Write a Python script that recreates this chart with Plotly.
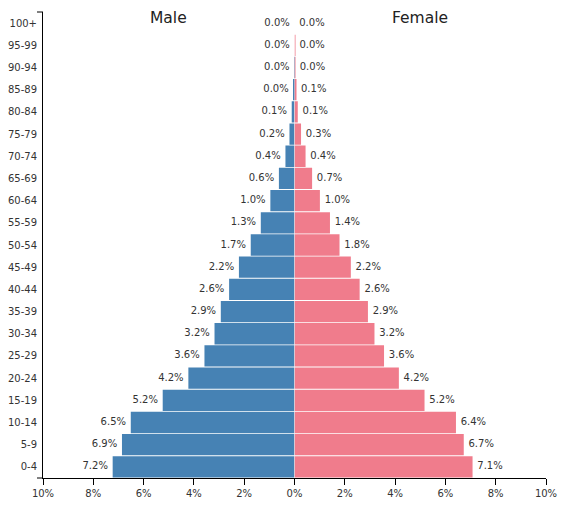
import plotly.graph_objects as go

# ---------- data ----------
age_groups = ["0-4", "5-9", "10-14", "15-19", "20-24", "25-29", "30-34",
              "35-39", "40-44", "45-49", "50-54", "55-59", "60-64", "65-69",
              "70-74", "75-79", "80-84", "85-89", "90-94", "95-99", "100+"]
male_pct = [7.23, 6.86, 6.51, 5.24, 4.22, 3.58, 3.18, 2.93, 2.60, 2.21, 1.74,
            1.34, 0.96, 0.62, 0.36, 0.20, 0.11, 0.04, 0.01, 0.0, 0.0]
female_pct = [7.08, 6.73, 6.42, 5.17, 4.15, 3.56, 3.18, 2.92, 2.59, 2.24, 1.79,
              1.41, 1.01, 0.70, 0.44, 0.26, 0.13, 0.07, 0.02, 0.005, 0.0]
male_ticks = [0, 2, 4, 6, 8, 10]
male_tick_text = ["0%", "2%", "4%", "6%", "8%", "10%"]
female_ticks = [2, 4, 6, 8, 10]   # 0% is already labelled by the male axis
female_tick_text = ["2%", "4%", "6%", "8%", "10%"]

MALE_COLOR = "#4682b4"
FEMALE_COLOR = "#f07c8c"
FONT = "DejaVu Sans"
TEXT_COLOR = "#333333"

fig = go.Figure()

# bars
for vals, color, xa in [(male_pct, MALE_COLOR, "x"), (female_pct, FEMALE_COLOR, "x2")]:
    fig.add_trace(go.Bar(
        y=age_groups, x=vals, orientation="h",
        xaxis=xa, yaxis="y",
        marker=dict(color=color, line=dict(width=0)),
        hoverinfo="skip", showlegend=False,
    ))

# value labels next to the bar ends (scatter text so zero values work too);
# an invisible marker gives the text a little padding
for vals, xa, pos in [(male_pct, "x", "middle left"), (female_pct, "x2", "middle right")]:
    fig.add_trace(go.Scatter(
        y=age_groups, x=vals, mode="markers+text",
        xaxis=xa, yaxis="y",
        marker=dict(size=6, color="rgba(0,0,0,0)"),
        text=[f"{v:.1f}%" for v in vals],
        textposition=pos, cliponaxis=False,
        textfont=dict(family=FONT, size=10, color=TEXT_COLOR),
        hoverinfo="skip", showlegend=False,
    ))

axis_common = dict(
    showgrid=False, zeroline=False, automargin=False,
    showline=True, linecolor="#000000", linewidth=1,
    ticks="outside", ticklen=6, tickcolor="#000000",
    tickfont=dict(family=FONT, size=10, color=TEXT_COLOR),
    fixedrange=True,
)

fig.update_layout(
    width=567, height=506,
    margin=dict(l=35, r=29, t=4, b=36, autoexpand=False),
    paper_bgcolor="white", plot_bgcolor="white",
    bargap=0.04,
    font=dict(family=FONT, color=TEXT_COLOR),
    xaxis=dict(domain=[0, 0.5], range=[10, 0], anchor="y",
               tickmode="array", tickvals=male_ticks, ticktext=male_tick_text,
               **axis_common),
    xaxis2=dict(domain=[0.5, 1], range=[0, 10], anchor="y",
                tickmode="array", tickvals=female_ticks, ticktext=female_tick_text,
                **axis_common),
    yaxis=dict(
        categoryorder="array", categoryarray=age_groups,
        range=[-0.5, len(age_groups) - 0.5],
        showgrid=False, zeroline=False, automargin=False,
        showline=True, linecolor="#000000", linewidth=1,
        ticks="", ticklabelstandoff=3,
        tickfont=dict(family=FONT, size=10, color=TEXT_COLOR),
        fixedrange=True,
    ),
    annotations=[
        dict(text="Male", x=0.25, y=0.987, xref="paper", yref="paper",
             xanchor="center", yanchor="middle", showarrow=False,
             font=dict(family=FONT, size=15.5, color="#222222")),
        dict(text="Female", x=0.75, y=0.987, xref="paper", yref="paper",
             xanchor="center", yanchor="middle", showarrow=False,
             font=dict(family=FONT, size=15.5, color="#222222")),
    ],
    # little end ticks on the left axis
    shapes=[
        dict(type="line", xref="paper", yref="paper", x0=-6 / 503, x1=0,
             y0=1, y1=1, line=dict(color="#000000", width=1)),
        dict(type="line", xref="paper", yref="paper", x0=-6 / 503, x1=0,
             y0=0, y1=0, line=dict(color="#000000", width=1)),
    ],
)

fig.write_html("out.html")
